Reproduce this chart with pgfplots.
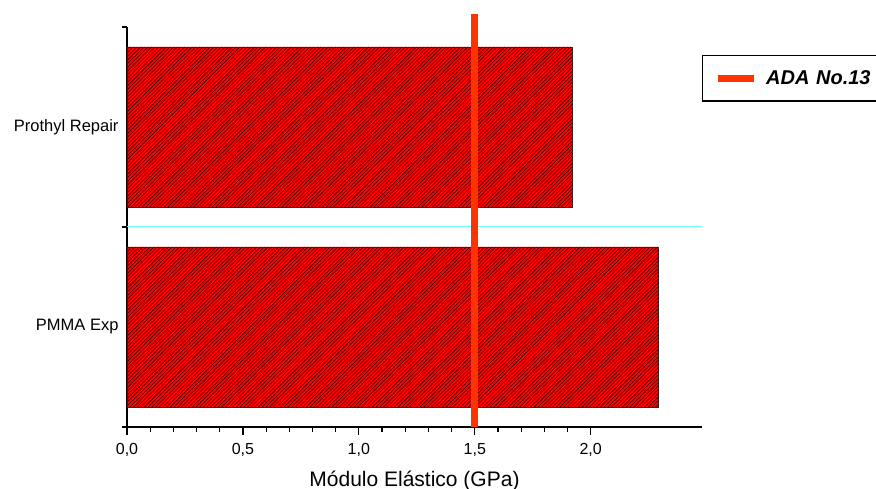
\documentclass[border=0pt]{standalone}
\usepackage{fontspec}
\setmainfont{Liberation Sans}
\usepackage{pgfplots}
\pgfplotsset{compat=1.18}
\usetikzlibrary{patterns.meta}
\definecolor{adaorange}{RGB}{255,51,0}
\definecolor{barred}{RGB}{255,0,0}
\definecolor{sepcyan}{RGB}{110,250,250}

\begin{document}
\begin{tikzpicture}
\useasboundingbox (-127bp,-62bp) rectangle (749bp,427bp);
\begin{axis}[
  scale only axis, width=575bp, height=400bp,
  xmin=0, xmax=2.48, ymin=-0.5, ymax=1.5,
  axis x line=bottom, axis y line=left,
  axis line style={-, line width=1.2bp, black},
  xtick={0,0.5,1,1.5,2}, minor x tick num=4,
  ytick={0,1}, yticklabels={PMMA Exp, Prothyl Repair},
  minor ytick={-0.5,0.5,1.5},
  tick align=outside,
  major tick length=8bp, minor tick length=5bp,
  every tick/.append style={line width=1.2bp, black},
  every major y tick/.append style={draw=none},
  /pgf/number format/assume math mode=true,
  xticklabel style={font=\fontsize{16bp}{19bp}\selectfont, yshift=-5bp,
    /pgf/number format/fixed, /pgf/number format/fixed zerofill,
    /pgf/number format/precision=1, /pgf/number format/use comma},
  yticklabel style={font=\fontsize{16.5bp}{20bp}\selectfont, xshift=3bp},
  xlabel={Módulo Elástico (GPa)},
  xlabel style={font=\fontsize{21bp}{25bp}\selectfont, yshift=-7bp},
  clip=false,
  legend style={at={(rel axis cs:1,0.93)}, anchor=north west, draw=black,
    line width=1.3bp, font=\fontsize{20bp}{24bp}\selectfont\bfseries\itshape,
    inner xsep=12bp, inner ysep=13bp, column sep=7bp},
]
\addplot[xbar, bar width=0.8, fill=barred, draw=black!85, line width=0.8bp,
  postaction={pattern={Lines[angle=45,distance=2.6bp,line width=0.4bp]}, pattern color=black},
  forget plot]
  coordinates {(2.29,0) (1.92,1)};
\addplot[sepcyan, line width=1bp, forget plot] coordinates {(0,0.5) (2.48,0.5)};
\addplot[adaorange, line width=7bp,
  legend image code/.code={\draw[line width=6.5bp, adaorange] (0bp,0bp) -- (36bp,0bp);}]
  coordinates {(1.5,-0.5) (1.5,1.565)};
\addlegendentry[text width=130bp]{ADA No.13}
\end{axis}
\end{tikzpicture}
\end{document}
